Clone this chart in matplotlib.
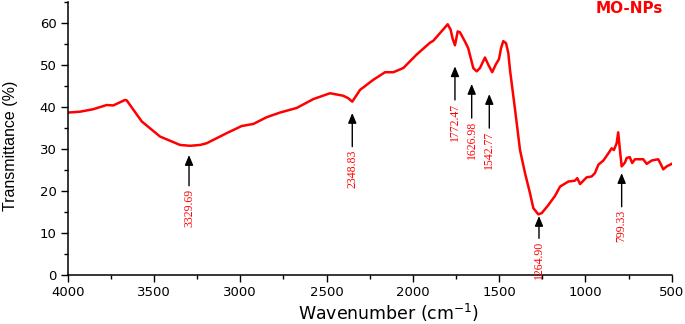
import matplotlib
matplotlib.use("Agg")
import matplotlib.pyplot as plt
from matplotlib.ticker import MultipleLocator

# Spectrum (wavenumber cm^-1, transmittance %)
wavenumber = [4000, 3930, 3852, 3774, 3736, 3668, 3658, 3571, 3465, 3349, 3290, 3233, 3195,
              3079, 2992, 2924, 2847, 2770, 2673, 2577, 2480, 2403, 2374, 2351, 2306, 2229,
              2161, 2113, 2055, 1978, 1901, 1881, 1798, 1781, 1769, 1756, 1740, 1727, 1698,
              1679, 1650, 1630, 1611, 1582, 1563, 1540, 1520, 1501, 1489, 1476, 1460, 1447,
              1436, 1422, 1408, 1379, 1350, 1321, 1302, 1273, 1253, 1215, 1176, 1147, 1099,
              1061, 1047, 1031, 993, 964, 945, 925, 896, 867, 848, 835, 819, 810, 800, 790,
              771, 761, 743, 729, 713, 665, 645, 616, 578, 564, 549, 529, 500]
transmittance = [38.7, 38.9, 39.5, 40.5, 40.4, 41.7, 41.6, 36.6, 33.0, 31.0, 30.8, 31.0, 31.4,
                 33.8, 35.5, 36.0, 37.6, 38.7, 39.8, 41.9, 43.3, 42.7, 42.1, 41.3, 44.1, 46.5,
                 48.3, 48.3, 49.3, 52.5, 55.3, 55.8, 59.7, 58.4, 56.2, 54.7, 58.0, 57.8, 55.6,
                 54.0, 49.3, 48.5, 49.3, 51.8, 50.1, 48.3, 50.1, 51.4, 54.0, 55.7, 55.2, 52.9,
                 48.5, 44.0, 39.5, 29.8, 24.3, 19.5, 16.0, 14.5, 14.8, 16.7, 18.9, 21.1, 22.3,
                 22.5, 23.1, 21.7, 23.3, 23.5, 24.3, 26.3, 27.3, 29.0, 30.2, 29.8, 31.4, 34.0,
                 29.8, 25.9, 26.8, 27.9, 28.1, 26.7, 27.6, 27.6, 26.5, 27.3, 27.6, 26.5, 25.2,
                 25.9, 26.5]

# Peak annotations
peak_labels = ["3329.69", "2348.83", "1772.47", "1626.98", "1542.77", "1264.90", "799.33"]
arrow_x = [3297, 2351, 1756, 1659, 1557, 1269, 790]
arrow_tip = [28.6, 38.6, 49.7, 45.5, 43.1, 14.1, 24.3]
arrow_tail = [21.3, 30.6, 41.7, 37.4, 35.0, 8.8, 16.3]

x_ticks = [4000, 3500, 3000, 2500, 2000, 1500, 1000, 500]
y_ticks = [0, 10, 20, 30, 40, 50, 60]

W, H = 685, 324
fig = plt.figure(figsize=(W / 100, H / 100), dpi=100)
ax = fig.add_axes([67.7 / W, 1 - 275.3 / H, (671.7 - 67.7) / W, (275.3 - 2) / H])

ax.plot(wavenumber, transmittance, color="#ff0000", lw=1.8)

ax.set_xlim(4000, 500)
ax.set_ylim(0, 65)
ax.set_xticks(x_ticks)
ax.set_yticks(y_ticks)
ax.xaxis.set_minor_locator(MultipleLocator(250))
ax.yaxis.set_minor_locator(MultipleLocator(5))
ax.tick_params(which="major", direction="out", length=5, width=1, labelsize=9.5, pad=3)
ax.tick_params(which="minor", direction="out", length=3, width=1)
for lab in ax.get_xticklabels() + ax.get_yticklabels():
    lab.set_family("DejaVu Sans")

for s in ["top", "right"]:
    ax.spines[s].set_visible(False)
for s in ["left", "bottom"]:
    ax.spines[s].set_linewidth(1.1)

for lab, x, tip, tail in zip(peak_labels, arrow_x, arrow_tip, arrow_tail):
    ax.annotate("", xy=(x, tip), xytext=(x, tail),
                arrowprops=dict(arrowstyle="-|>,head_length=0.6,head_width=0.25",
                                color="black", lw=1.0, shrinkA=0, shrinkB=0))
    ax.annotate(lab, xy=(x, tail), xytext=(0, -2), textcoords="offset points",
                rotation=90, ha="center", va="top", color="#ff0000",
                fontsize=8.5, family="Liberation Serif")

fig.text(629 / W, 1 - 1 / H, "MO-NPs", color="#ff0000", fontsize=11,
         fontweight="bold", family="DejaVu Sans", ha="center", va="top")

fig.text(11 / W, 1 - 146 / H, "Transmittance (%)", rotation=90, ha="center", va="center",
         fontsize=11.5, family="Liberation Sans")
fig.text(389 / W, 1 - 313 / H, "Wavenumber (cm$^{-1}$)", ha="center", va="center",
         fontsize=12.5, family="DejaVu Sans")

fig.savefig("out.png", dpi=100)
